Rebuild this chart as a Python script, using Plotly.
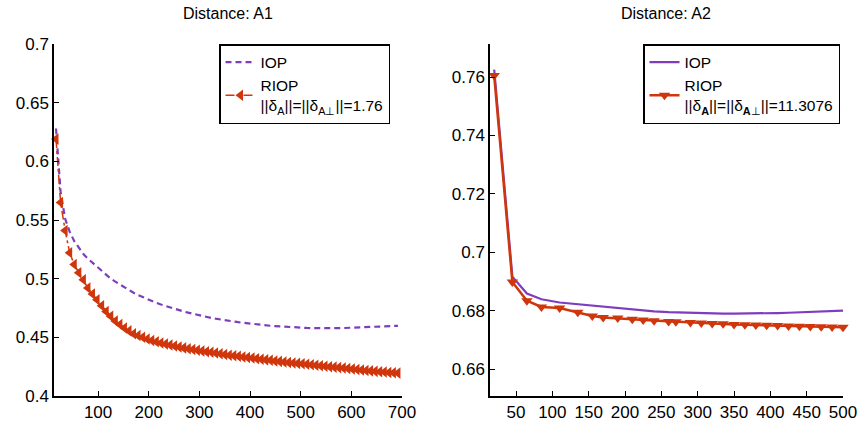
import plotly.graph_objects as go

# ---------------- Left panel: Distance A1 ----------------
x_a1 = [17 + 9 * k for k in range(76)]
iop_a1 = [0.628, 0.574, 0.551, 0.540, 0.532, 0.526, 0.521, 0.517, 0.5135, 0.510,
          0.5065, 0.503, 0.500, 0.4975, 0.495, 0.4925, 0.4902, 0.488, 0.486, 0.4842,
          0.4825, 0.4809, 0.4794, 0.478, 0.4767, 0.4754, 0.4742, 0.4731, 0.472, 0.471,
          0.470, 0.4691, 0.4682, 0.4674, 0.4666, 0.4659, 0.4652, 0.4646, 0.464, 0.4634,
          0.4629, 0.4624, 0.4619, 0.4614, 0.461, 0.4606, 0.4602, 0.4599, 0.4596, 0.4593,
          0.459, 0.4588, 0.4586, 0.4584, 0.4582, 0.458, 0.4579, 0.4578, 0.4577, 0.4577,
          0.4577, 0.4577, 0.4578, 0.4579, 0.458, 0.4581, 0.4582, 0.4584, 0.4586, 0.4588,
          0.459, 0.4592, 0.4594, 0.4595, 0.4597, 0.4598]
riop_a1 = [0.619, 0.565, 0.541, 0.522, 0.512, 0.505, 0.499, 0.492, 0.487, 0.482,
           0.477, 0.472, 0.468, 0.464, 0.461, 0.458, 0.4555, 0.453, 0.4515, 0.450,
           0.4485, 0.4473, 0.4462, 0.4452, 0.4443, 0.4434, 0.4426, 0.4418, 0.4410, 0.4403,
           0.4396, 0.4390, 0.4384, 0.4378, 0.4372, 0.4366, 0.4360, 0.4354, 0.4348, 0.4343,
           0.4338, 0.4333, 0.4328, 0.4323, 0.4318, 0.4313, 0.4308, 0.4304, 0.4299, 0.4295,
           0.4290, 0.4286, 0.4282, 0.4278, 0.4274, 0.4270, 0.4266, 0.4262, 0.4258, 0.4254,
           0.4250, 0.4246, 0.4242, 0.4238, 0.4234, 0.4230, 0.4226, 0.4222, 0.4218, 0.4214,
           0.4210, 0.4207, 0.4204, 0.4201, 0.4198, 0.4195]

# ---------------- Right panel: Distance A2 ----------------
x_a2 = [20, 45, 65, 85, 110, 135, 155, 170, 190, 210, 225, 240, 260, 270, 290,
        305, 320, 335, 350, 365, 380, 395, 410, 425, 440, 455, 470, 485, 500]
iop_a2 = [0.7625, 0.6916, 0.6859, 0.6839, 0.6828, 0.6822, 0.6818, 0.6813, 0.6808, 0.6803,
          0.6800, 0.6798, 0.6795, 0.6794, 0.6792, 0.6791, 0.6790, 0.6790, 0.6790, 0.6790,
          0.6790, 0.6791, 0.6792, 0.6793, 0.6794, 0.6795, 0.6797, 0.6798, 0.6800]
riop_a2 = [0.7605, 0.6898, 0.6834, 0.6813, 0.6809, 0.6795, 0.6782, 0.6777, 0.6775, 0.6771,
           0.6768, 0.6766, 0.6763, 0.6762, 0.6760, 0.6758, 0.6756, 0.6755, 0.6753, 0.6752,
           0.6751, 0.6750, 0.6749, 0.6748, 0.6747, 0.6746, 0.6745, 0.6744, 0.6743]

ticks_x_a1 = [100, 200, 300, 400, 500, 600, 700]
ticks_y_a1 = [0.4, 0.45, 0.5, 0.55, 0.6, 0.65, 0.7]
ticks_x_a2 = [50, 100, 150, 200, 250, 300, 350, 400, 450, 500]
ticks_y_a2 = [0.66, 0.68, 0.7, 0.72, 0.74, 0.76]

PURPLE = "#7E3DBE"
RED = "#D0360C"
FONT = "Liberation Sans, Arial, sans-serif"
W, H = 862, 424

fig = go.Figure()
fig.add_trace(go.Scatter(x=x_a1, y=iop_a1, mode="lines", name="IOP",
                         line=dict(color=PURPLE, width=2.2, dash="6px,4px"),
                         xaxis="x", yaxis="y", legend="legend"))
fig.add_trace(go.Scatter(x=x_a1, y=riop_a1, mode="lines+markers",
                         name="RIOP<br>||δ<sub>A</sub>||=||δ<sub>A⊥</sub>||=1.76",
                         line=dict(color=RED, width=1.5, dash="dashdot"),
                         marker=dict(symbol="triangle-left", size=10, color=RED),
                         cliponaxis=False,
                         xaxis="x", yaxis="y", legend="legend"))
fig.add_trace(go.Scatter(x=x_a2, y=iop_a2, mode="lines", name="IOP",
                         line=dict(color=PURPLE, width=2.2),
                         xaxis="x2", yaxis="y2", legend="legend2"))
fig.add_trace(go.Scatter(x=x_a2, y=riop_a2, mode="lines+markers",
                         name="RIOP<br>||δ<sub><b>A</b></sub>||=||δ<sub><b>A</b>⊥</sub>||=11.3076",
                         line=dict(color=RED, width=2.5),
                         marker=dict(symbol="triangle-down", size=10, color=RED),
                         cliponaxis=False,
                         xaxis="x2", yaxis="y2", legend="legend2"))

def px_x(p):
    return p / W

def px_y(p):
    return 1 - p / H

axis_common = dict(showline=True, linecolor="black", linewidth=1.5, ticks="inside",
                   ticklen=5, tickwidth=1.3, tickcolor="black", showgrid=False,
                   zeroline=False, automargin=False,
                   tickfont=dict(size=17, color="black", family=FONT))

fig.update_layout(
    width=W, height=H, autosize=False,
    margin=dict(l=0, r=0, t=0, b=0, pad=0, autoexpand=False),
    paper_bgcolor="white", plot_bgcolor="white",
    font=dict(family=FONT, color="black"),
    xaxis=dict(domain=[px_x(54), px_x(402)], range=[13, 700], tickvals=ticks_x_a1,
               anchor="y", **axis_common),
    yaxis=dict(domain=[px_y(396), px_y(44)], range=[0.4, 0.7], tickvals=ticks_y_a1,
               ticktext=[f"{v:g}" for v in ticks_y_a1], anchor="x", **axis_common),
    xaxis2=dict(domain=[px_x(490), px_x(843)], range=[14.2, 500], tickvals=ticks_x_a2,
                anchor="y2", **axis_common),
    yaxis2=dict(domain=[px_y(396), px_y(44)], range=[0.6508, 0.7713], tickvals=ticks_y_a2,
                ticktext=[f"{v:g}" for v in ticks_y_a2], anchor="x2", **axis_common),
    legend=dict(x=px_x(219), y=px_y(44), xanchor="left", yanchor="top",
                bordercolor="black", borderwidth=1.5, bgcolor="white",
                font=dict(size=15.5, family=FONT), tracegroupgap=0, itemwidth=30),
    legend2=dict(x=px_x(643), y=px_y(44), xanchor="left", yanchor="top",
                 bordercolor="black", borderwidth=1.5, bgcolor="white",
                 font=dict(size=15.5, family=FONT), tracegroupgap=0, itemwidth=30),
    annotations=[
        dict(text="Distance: A1", x=px_x(228), y=px_y(13), xref="paper", yref="paper",
             xanchor="center", yanchor="middle",
             showarrow=False, font=dict(size=16, family=FONT)),
        dict(text="Distance: A2", x=px_x(666), y=px_y(13), xref="paper", yref="paper",
             xanchor="center", yanchor="middle",
             showarrow=False, font=dict(size=16, family=FONT)),
    ],
)

fig.write_html("out.html", config={"displayModeBar": False},
               post_script="document.body.style.margin='0';document.body.style.padding='0';")
